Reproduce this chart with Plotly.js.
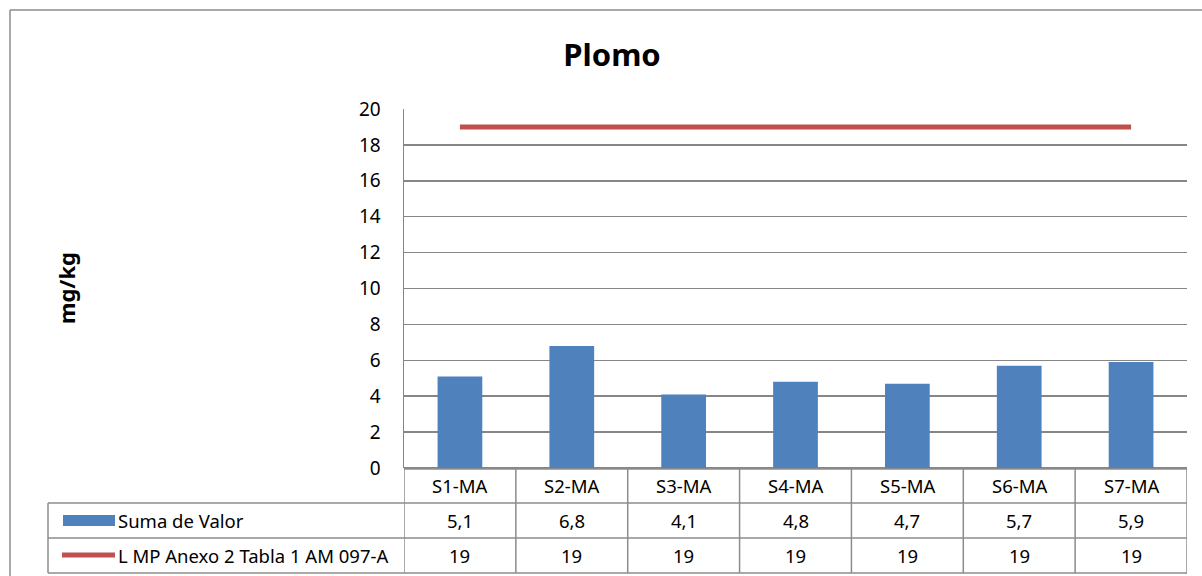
<!DOCTYPE html>
<html>
<head>
<meta charset="utf-8">
<script src="https://cdn.plot.ly/plotly-3.0.1.min.js"></script>
<style>html,body{margin:0;padding:0;background:#fff;}#chart{width:1202px;height:576px;}</style>
</head>
<body>
<div id="chart"></div>
<script>
const categories = ["S1-MA", "S2-MA", "S3-MA", "S4-MA", "S5-MA", "S6-MA", "S7-MA"];
const sumaValor = [5.1, 6.8, 4.1, 4.8, 4.7, 5.7, 5.9];
const limite = [19, 19, 19, 19, 19, 19, 19];
const seriesNames = ["Suma de Valor", "L MP Anexo 2 Tabla 1 AM 097-A"];
const yTicks = [0, 2, 4, 6, 8, 10, 12, 14, 16, 18, 20];

const W = 1202, H = 576;
const L = 404, R = 1187, T = 109, B = 468;
const pw = R - L, ph = B - T;
const px = v => (v - L) / pw;       // pixel x -> paper
const py = v => (B - v) / ph;       // pixel y -> paper

const FONT = "Noto Sans, sans-serif";
const GRID = "#868686";
const fmt = v => (Number.isInteger(v) ? String(v) : v.toFixed(1).replace(".", ","));

const traces = [
  {type: "bar", x: categories, y: sumaValor, name: seriesNames[0],
   marker: {color: "#4F81BD", line: {color: "#4F81BD", width: 0}}, width: 0.4,
   hoverinfo: "skip"},
  {type: "scatter", mode: "lines", x: categories, y: limite, name: seriesNames[1],
   line: {color: "#C0504D", width: 5}, hoverinfo: "skip"}
];

const rows = [469, 503, 538, 573];
const shapes = [];
const annotations = [];
const ln = {color: "#8c8c8c", width: 1.5};
// horizontal table lines
shapes.push({type: "line", xref: "paper", yref: "paper", x0: 0, x1: 1, y0: py(rows[0]), y1: py(rows[0]), line: ln});
for (let i = 1; i < rows.length; i++) {
  shapes.push({type: "line", xref: "paper", yref: "paper", x0: px(48), x1: 1, y0: py(rows[i]), y1: py(rows[i]), line: ln});
}
// vertical table lines
shapes.push({type: "line", xref: "paper", yref: "paper", x0: px(48), x1: px(48), y0: py(rows[1]), y1: py(rows[3]), line: ln});
for (let i = 0; i <= categories.length; i++) {
  const xv = i - 0.5;
  shapes.push({type: "line", xref: "x", yref: "paper", x0: xv, x1: xv, y0: py(rows[0]), y1: py(rows[3]), line: ln});
}
// outer chart border (top and left edges visible)
shapes.push({type: "line", xref: "paper", yref: "paper", x0: px(10), x1: px(1202), y0: py(10), y1: py(10),
  line: {color: "#8c8c8c", width: 1.5}});
shapes.push({type: "line", xref: "paper", yref: "paper", x0: px(10), x1: px(10), y0: py(10), y1: py(576),
  line: {color: "#8c8c8c", width: 1.5}});
// legend keys
shapes.push({type: "rect", xref: "paper", yref: "paper", x0: px(63), x1: px(115), y0: py(526), y1: py(515),
  line: {width: 0}, fillcolor: "#4F81BD"});
shapes.push({type: "line", xref: "paper", yref: "paper", x0: px(62), x1: px(115), y0: py(555), y1: py(555),
  line: {color: "#C0504D", width: 5}});

const tf = {family: FONT, size: 18.5, color: "#000"};
const rowMid = [(rows[0] + rows[1]) / 2, (rows[1] + rows[2]) / 2, (rows[2] + rows[3]) / 2];
categories.forEach((c, i) => {
  annotations.push({xref: "x", yref: "paper", x: i, y: py(rowMid[0]), text: c, showarrow: false, font: tf, xanchor: "center", yanchor: "middle"});
  annotations.push({xref: "x", yref: "paper", x: i, y: py(rowMid[1]), text: fmt(sumaValor[i]), showarrow: false, font: tf, xanchor: "center", yanchor: "middle"});
  annotations.push({xref: "x", yref: "paper", x: i, y: py(rowMid[2]), text: fmt(limite[i]), showarrow: false, font: tf, xanchor: "center", yanchor: "middle"});
});
annotations.push({xref: "paper", yref: "paper", x: px(116), y: py(rowMid[1]), text: seriesNames[0], showarrow: false, font: tf, xanchor: "left", yanchor: "middle"});
annotations.push({xref: "paper", yref: "paper", x: px(116), y: py(rowMid[2]), text: seriesNames[1], showarrow: false, font: tf, xanchor: "left", yanchor: "middle"});
// y-axis title
annotations.push({xref: "paper", yref: "paper", x: px(66), y: py(288), text: "<b>mg/kg</b>", showarrow: false, textangle: -90,
  font: {family: FONT, size: 22, color: "#000"}, xanchor: "center", yanchor: "middle"});

const layout = {
  width: W, height: H,
  margin: {l: L, r: W - R, t: T, b: H - B, pad: 0},
  paper_bgcolor: "#fff", plot_bgcolor: "#fff",
  showlegend: false,
  title: {text: "<b>Plomo</b>", x: 612 / W, xanchor: "center", y: 1 - 55 / H, yanchor: "middle",
          font: {family: FONT, size: 31, color: "#000"}},
  xaxis: {type: "category", range: [-0.5, 6.5], showticklabels: false, ticks: "", showgrid: false,
          zeroline: false, showline: false, fixedrange: true},
  yaxis: {range: [0, 20], tickvals: yTicks, ticktext: yTicks.map(String), ticks: "", ticklabelstandoff: 18,
          showgrid: true, gridcolor: GRID, gridwidth: 1.5, zeroline: true, zerolinecolor: GRID, zerolinewidth: 1.5,
          showline: true, linecolor: GRID, linewidth: 1.5,
          tickfont: {family: FONT, size: 19, color: "#000"}, fixedrange: true},
  shapes: shapes,
  annotations: annotations
};

Plotly.newPlot("chart", traces, layout, {displayModeBar: false, staticPlot: true});
</script>
</body>
</html>
